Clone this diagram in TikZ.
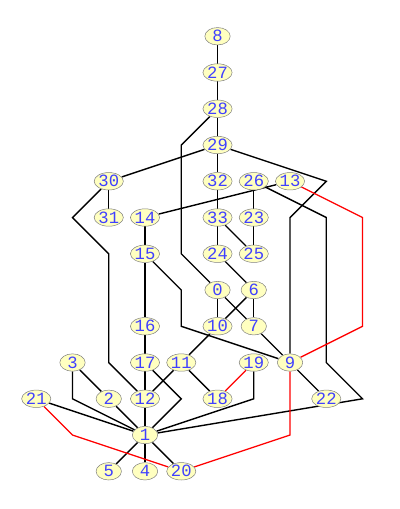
\documentclass[tikz,border=0pt]{standalone}
\usepackage{fontspec}
\setmonofont{Liberation Mono}
\usetikzlibrary{shapes.geometric, backgrounds}
\definecolor{vfill}{RGB}{255,255,192}
\definecolor{vline}{RGB}{128,128,128}
\definecolor{vtext}{RGB}{64,64,255}
\tikzset{
    vertex/.style={
        ellipse, draw=vline, fill=vfill, text=vtext, inner sep=0pt,
        minimum width=0.7cm, minimum height=0.48cm, font=\ttfamily\fontsize{13.5}{13.5}\selectfont
    },
    edge/.style={
        line width=1.1pt, black
    },
    redge/.style={
        line width=1pt, red
    }
}
\begin{document}
\begin{tikzpicture}

    \useasboundingbox (0,0) rectangle (11.03,-14.04);

    % Vertices, top part
    \node[vertex] (n8) at (6,-1) {8};
    \node[vertex] (n27) at (6,-2) {27};
    \node[vertex] (n28) at (6,-3) {28};
    \node[vertex] (n29) at (6,-4) {29};
    \node[vertex] (n30) at (3,-5) {30};
    \node[vertex] (n32) at (6,-5) {32};
    \node[vertex] (n26) at (7,-5) {26};
    \node[vertex] (n13) at (8,-5) {13};
    \node[vertex] (n31) at (3,-6) {31};
    \node[vertex] (n14) at (4,-6) {14};
    \node[vertex] (n33) at (6,-6) {33};
    \node[vertex] (n23) at (7,-6) {23};
    \node[vertex] (n15) at (4,-7) {15};
    \node[vertex] (n24) at (6,-7) {24};
    \node[vertex] (n25) at (7,-7) {25};

    % Vertices, middle part
    \node[vertex] (n0) at (6,-8) {0};
    \node[vertex] (n6) at (7,-8) {6};
    \node[vertex] (n16) at (4,-9) {16};
    \node[vertex] (n10) at (6,-9) {10};
    \node[vertex] (n7) at (7,-9) {7};
    \node[vertex] (n3) at (2,-10) {3};
    \node[vertex] (n17) at (4,-10) {17};
    \node[vertex] (n11) at (5,-10) {11};
    \node[vertex] (n19) at (7,-10) {19};
    \node[vertex] (n9) at (8,-10) {9};

    % Vertices, bottom part
    \node[vertex] (n21) at (1,-11) {21};
    \node[vertex] (n2) at (3,-11) {2};
    \node[vertex] (n12) at (4,-11) {12};
    \node[vertex] (n18) at (6,-11) {18};
    \node[vertex] (n22) at (9,-11) {22};
    \node[vertex] (n1) at (4,-12) {1};
    \node[vertex] (n5) at (3,-13) {5};
    \node[vertex] (n4) at (4,-13) {4};
    \node[vertex] (n20) at (5,-13) {20};

    % Bend points
    \coordinate (b28a) at (5,-4);
    \coordinate (b28b) at (5,-7);
    \coordinate (b29a) at (9,-5);
    \coordinate (b29b) at (8,-6);
    \coordinate (b30a) at (2,-6);
    \coordinate (b30b) at (3,-7);
    \coordinate (b30c) at (3,-10);
    \coordinate (b26a) at (9,-6);
    \coordinate (b26b) at (9,-10);
    \coordinate (b26c) at (10,-11);
    \coordinate (b13a) at (10,-6);
    \coordinate (b13b) at (10,-9);
    \coordinate (b15a) at (5,-8);
    \coordinate (b15b) at (5,-9);
    \coordinate (b19a) at (7,-11);
    \coordinate (b17a) at (5,-11);
    \coordinate (b3a) at (2,-11);
    \coordinate (b9a) at (8,-12);
    \coordinate (b21a) at (2,-12);

    \begin{scope}[on background layer]
    % Black edges
    \draw[edge] (n8) -- (n27);
    \draw[edge] (n27) -- (n28);
    \draw[edge] (n28) -- (n29);
    \draw[edge] (n28) -- (b28a) -- (b28b) -- (n0);
    \draw[edge] (n29) -- (n32);
    \draw[edge] (n29) -- (n30);
    \draw[edge] (n29) -- (b29a) -- (b29b) -- (n9);
    \draw[edge] (n30) -- (n31);
    \draw[edge] (n30) -- (b30a) -- (b30b) -- (b30c) -- (n12);
    \draw[edge] (n14) -- (n13);
    \draw[edge] (n26) -- (n23);
    \draw[edge] (n26) -- (b26a) -- (b26b) -- (b26c) -- (n1);
    \draw[edge] (n32) -- (n33);
    \draw[edge] (n33) -- (n24);
    \draw[edge] (n33) -- (n25);
    \draw[edge] (n23) -- (n25);
    \draw[edge] (n14) -- (n15);
    \draw[edge] (n15) -- (n16);
    \draw[edge] (n16) -- (n17);
    \draw[edge] (n17) -- (n12);
    \draw[edge] (n12) -- (n1);
    \draw[edge] (n15) -- (b15a) -- (b15b) -- (n9);
    \draw[edge] (n24) -- (n6);
    \draw[edge] (n0) -- (n10);
    \draw[edge] (n0) -- (n7);
    \draw[edge] (n6) -- (n7);
    \draw[edge] (n6) -- (n10);
    \draw[edge] (n10) -- (n11);
    \draw[edge] (n11) -- (n12);
    \draw[edge] (n11) -- (n18);
    \draw[edge] (n7) -- (n9);
    \draw[edge] (n9) -- (n22);
    \draw[edge] (n19) -- (b19a) -- (n1);
    \draw[edge] (n17) -- (b17a) -- (n1);
    \draw[edge] (n3) -- (b3a) -- (n1);
    \draw[edge] (n3) -- (n2);
    \draw[edge] (n2) -- (n1);
    \draw[edge] (n21) -- (n1);
    \draw[edge] (n1) -- (n5);
    \draw[edge] (n1) -- (n4);
    \draw[edge] (n1) -- (n20);

    % Red edges
    \draw[redge] (n13) -- (b13a) -- (b13b) -- (n9);
    \draw[redge] (n9) -- (b9a) -- (n20);
    \draw[redge] (n19) -- (n18);
    \draw[redge] (n21) -- (b21a) -- (n20);
    \end{scope}

\end{tikzpicture}
\end{document}
